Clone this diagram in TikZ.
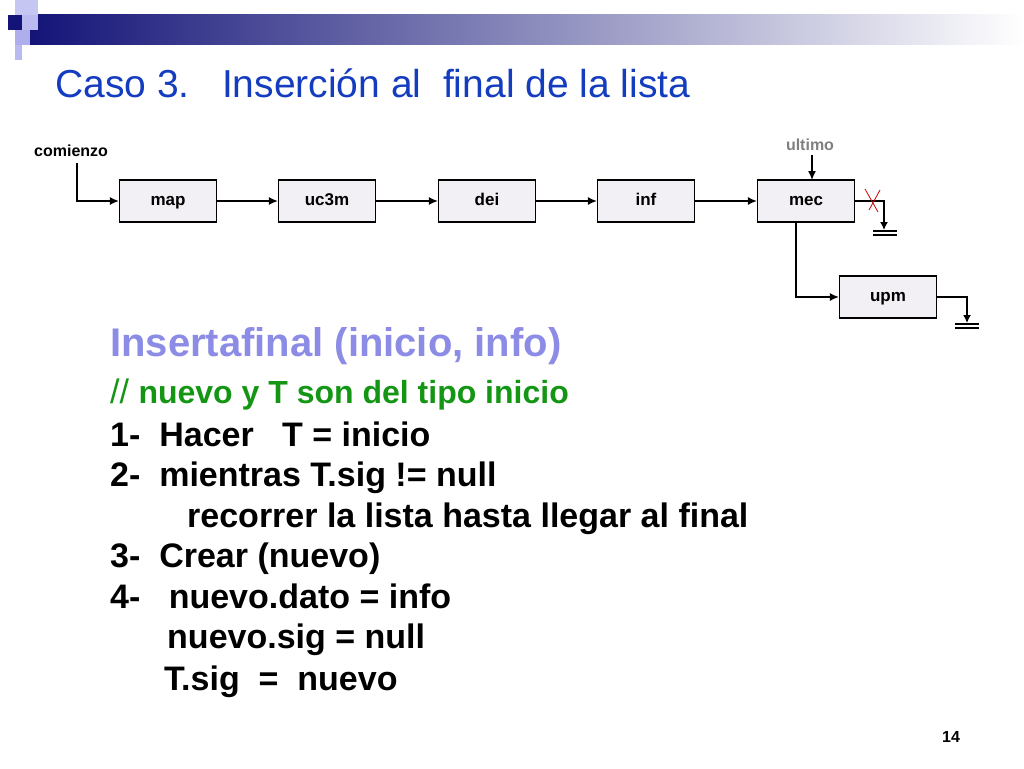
\documentclass[tikz,border=0pt]{standalone}
\usepackage{fontspec}
\setmainfont{Liberation Sans}
\usetikzlibrary{arrows.meta}
\definecolor{navy}{RGB}{20,20,120}
\definecolor{ttl}{RGB}{20,60,190}
\definecolor{lav}{RGB}{140,140,230}
\definecolor{grn}{RGB}{20,150,20}
\definecolor{boxf}{RGB}{242,240,244}
\begin{document}
\begin{tikzpicture}[x=1pt,y=-1pt,
  lbox/.style={draw,fill=boxf,minimum width=97pt,minimum height=42pt,line width=1.2pt,text height=11pt,text depth=3pt,font=\bfseries\fontsize{17}{17}\selectfont},
  lnk/.style={line width=1.4pt,-{Latex[length=9pt,width=8pt]}},
  code/.style={anchor=base west,font=\bfseries\fontsize{34}{34}\selectfont,inner sep=0}]
\useasboundingbox (0,0) rectangle (1024,768);
% header decoration
\shade[left color=navy,right color=white] (30,15) rectangle (1024,45);
\fill[navy] (8,15) rectangle (22,30);
\fill[lav!50] (15,0) rectangle (38,15);
\fill[lav!60] (22,15) rectangle (38,30);
\fill[lav!70] (15,30) rectangle (30,45);
\fill[lav!60] (15,45) rectangle (22,60);
\node[anchor=base west,inner sep=0,text=ttl,font=\fontsize{39}{39}\selectfont] (title) at (55,97) {Caso 3.\ \ \ Inserción al\ \ final de la lista};
% list
\node[lbox] (map) at (168,201) {map};
\node[lbox] (uc) at (327,201) {uc3m};
\node[lbox] (dei) at (487,201) {dei};
\node[lbox] (inf) at (646,201) {inf};
\node[lbox] (mec) at (806,201) {mec};
\node[lbox] (upm) at (888,297) {upm};
\node[font=\bfseries\fontsize{16}{16}\selectfont,anchor=south west,inner sep=1] (com) at (33,158) {comienzo};
\node[font=\bfseries\fontsize{16}{16}\selectfont,text=gray,inner sep=1] (ult) at (810,145) {ultimo};
\draw[lnk] (77,163) |- (map.west);
\draw[lnk] (map) -- (uc);
\draw[lnk] (uc) -- (dei);
\draw[lnk] (dei) -- (inf);
\draw[lnk] (inf) -- (mec);
\draw[lnk] (812,155) -- (812,180);
\draw[lnk] (796,222) |- (upm.west);
\coordinate (g1) at (884,230);
\draw[line width=1.4pt,-{Latex[length=8pt,width=8pt]}] (mec.east) -| (g1);
\draw[line width=1.4pt] (873,231) -- (897,231) (873,235) -- (897,235);
\draw[red!80!black,line width=0.8pt] (865,189) -- (878,212) (880,190) -- (869,210);
\coordinate (g2) at (967,323);
\draw[line width=1.4pt,-{Latex[length=8pt,width=8pt]}] (upm.east) -| (g2);
\draw[line width=1.4pt] (955,324) -- (979,324) (955,328) -- (979,328);
% code
\node[code,text=lav,font=\bfseries\fontsize{40}{40}\selectfont] (c0) at (110,356) {Insertafinal (inicio, info)};
\node[code,text=grn] (c1) at (110,403) {{\mdseries //} \fontsize{32}{32}\selectfont nuevo y T son del tipo inicio};
\node[code] (c2) at (110,446) {1-\ \ Hacer\ \ \ T = inicio};
\node[code] (c3) at (110,486) {2-\ \ mientras T.sig != null};
\node[code] (c4) at (187,527) {recorrer la lista hasta llegar al final};
\node[code] (c5) at (110,567) {3-\ \ Crear (nuevo)};
\node[code] (c6) at (110,608) {4-\ \ \ nuevo.dato = info};
\node[code] (c7) at (167,648) {nuevo.sig = null};
\node[code] (c8) at (164,690) {T.sig\ \ =\ \ nuevo};
\node[anchor=base,font=\bfseries\fontsize{16}{16}\selectfont] (pg) at (951,742) {14};
\end{tikzpicture}
\end{document}
